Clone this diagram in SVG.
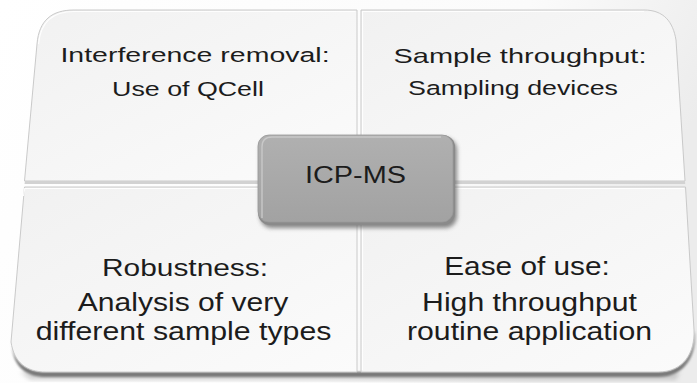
<svg xmlns="http://www.w3.org/2000/svg" width="697" height="383" viewBox="0 0 697 383">
  <defs>
    <linearGradient id="bg" x1="0" y1="0" x2="1" y2="0.3">
      <stop offset="0" stop-color="#ffffff"/>
      <stop offset="0.7" stop-color="#fbfbfb"/>
      <stop offset="1" stop-color="#ececec"/>
    </linearGradient>
    <linearGradient id="panel" x1="0" y1="0" x2="1" y2="1">
      <stop offset="0" stop-color="#f1f1f1"/>
      <stop offset="1" stop-color="#fbfbfb"/>
    </linearGradient>
    <linearGradient id="depth" x1="0" y1="0" x2="0" y2="1">
      <stop offset="0" stop-color="#9a9a9a"/>
      <stop offset="1" stop-color="#6e6e6e"/>
    </linearGradient>
    <linearGradient id="hub" x1="0" y1="0" x2="0" y2="1">
      <stop offset="0" stop-color="#b0b0b0"/>
      <stop offset="1" stop-color="#a2a2a2"/>
    </linearGradient>
    <filter id="soft" x="-10%" y="-10%" width="120%" height="130%">
      <feGaussianBlur stdDeviation="2"/>
    </filter>
    <filter id="soft1" x="-10%" y="-10%" width="120%" height="130%">
      <feGaussianBlur stdDeviation="1"/>
    </filter>
  </defs>
  <style>
    .panel { fill: url(#panel); stroke: #c4c4c4; stroke-width: 0.9; }
    .rim { fill: none; stroke: #ffffff; stroke-width: 1.2; opacity: 0.9; }
    .depth { fill: url(#depth); }
    .lbl { font-family: "Liberation Sans", Arial, sans-serif; fill: #1c1c1c; text-anchor: middle; }
  </style>

  <rect width="697" height="383" fill="url(#bg)"/>

  <!-- extruded depth under the board -->
  <path class="depth" filter="url(#soft1)" d="M 12,347 C 14,367 26,377 46,377 L 658,377 C 684,377 696,357 695,335 L 694,330 C 695,352 684,372 658,372 L 46,372 C 26,372 14,362 11,342 Z"/>
  <path d="M 20,372 L 680,372 L 676,380 L 30,380 Z" fill="#8c8c8c" opacity="0.35" filter="url(#soft)"/>

  <!-- quadrant: interference removal -->
  <g id="interference">
    <path class="panel" d="M 37,44 C 39,20 52,10 74,10 L 357,10 L 357,181 L 24.5,181 Z"/>
    <path class="rim" d="M 38.5,44 C 40.5,22 53,11.5 74,11.5 L 355.5,11.5"/>
    <path d="M 25,181 L 357,181 L 357,184 L 24.5,184 Z" fill="#d2d2d2"/>
    <text class="lbl" font-size="28.5" transform="translate(195,62) scale(1,0.72)">Interference removal:</text>
    <text class="lbl" font-size="26.8" transform="translate(188,96) scale(1,0.78)">Use of QCell</text>
  </g>

  <!-- quadrant: sample throughput -->
  <g id="throughput">
    <path class="panel" d="M 361,10 L 644,10 C 664,10 673,22 676,40 L 685,181 L 361,181 Z"/>
    <path class="rim" d="M 362.5,180 L 362.5,11.5 L 644,11.5"/>
    <path d="M 361,181 L 685,181 L 685.2,184 L 361,184 Z" fill="#d2d2d2"/>
    <text class="lbl" font-size="29" transform="translate(520,63) scale(1,0.72)">Sample throughput:</text>
    <text class="lbl" font-size="26.8" transform="translate(513,95) scale(1,0.78)">Sampling devices</text>
  </g>

  <!-- quadrant: robustness -->
  <g id="robustness">
    <path class="panel" d="M 24.5,187 L 357,187 L 357,372 L 46,372 C 26,372 14,362 11,342 Z"/>
    <path class="rim" d="M 23.5,196 L 24.7,188.5 L 355.5,188.5"/>
    <text class="lbl" font-size="29.9" transform="translate(185,276) scale(1,0.82)">Robustness:</text>
    <text class="lbl" font-size="30.1" transform="translate(183,311) scale(1,0.84)">Analysis of very</text>
    <text class="lbl" font-size="30.3" transform="translate(183.5,340) scale(1,0.84)">different sample types</text>
  </g>

  <!-- quadrant: ease of use -->
  <g id="ease-of-use">
    <path class="panel" d="M 361,187 L 685.5,187 L 694,330 C 695,352 684,372 658,372 L 361,372 Z"/>
    <path class="rim" d="M 362.5,370 L 362.5,188.5 L 684,188.5"/>
    <text class="lbl" font-size="29.8" transform="translate(527,275) scale(1,0.84)">Ease of use:</text>
    <text class="lbl" font-size="30.2" transform="translate(529.5,311) scale(1,0.84)">High throughput</text>
    <text class="lbl" font-size="30.2" transform="translate(529.5,340) scale(1,0.84)">routine application</text>
  </g>

  <!-- central hub -->
  <g id="icp-ms">
    <rect x="260" y="138" width="197" height="90" rx="12" fill="#6a6a6a" opacity="0.8" filter="url(#soft)"/>
    <rect x="258" y="135" width="197" height="90" rx="12" fill="#8a8a8a"/>
    <rect x="258" y="135" width="195" height="87" rx="11" fill="url(#hub)" stroke="#9a9a9a" stroke-width="0.8"/>
    <path d="M 262,218 L 262,147 Q 262,137 272,137 L 441,137" fill="none" stroke="#c8c8c8" stroke-width="1.4"/>
    <text class="lbl" font-size="28.9" transform="translate(355.5,183) scale(1,0.8)">ICP-MS</text>
  </g>
</svg>
